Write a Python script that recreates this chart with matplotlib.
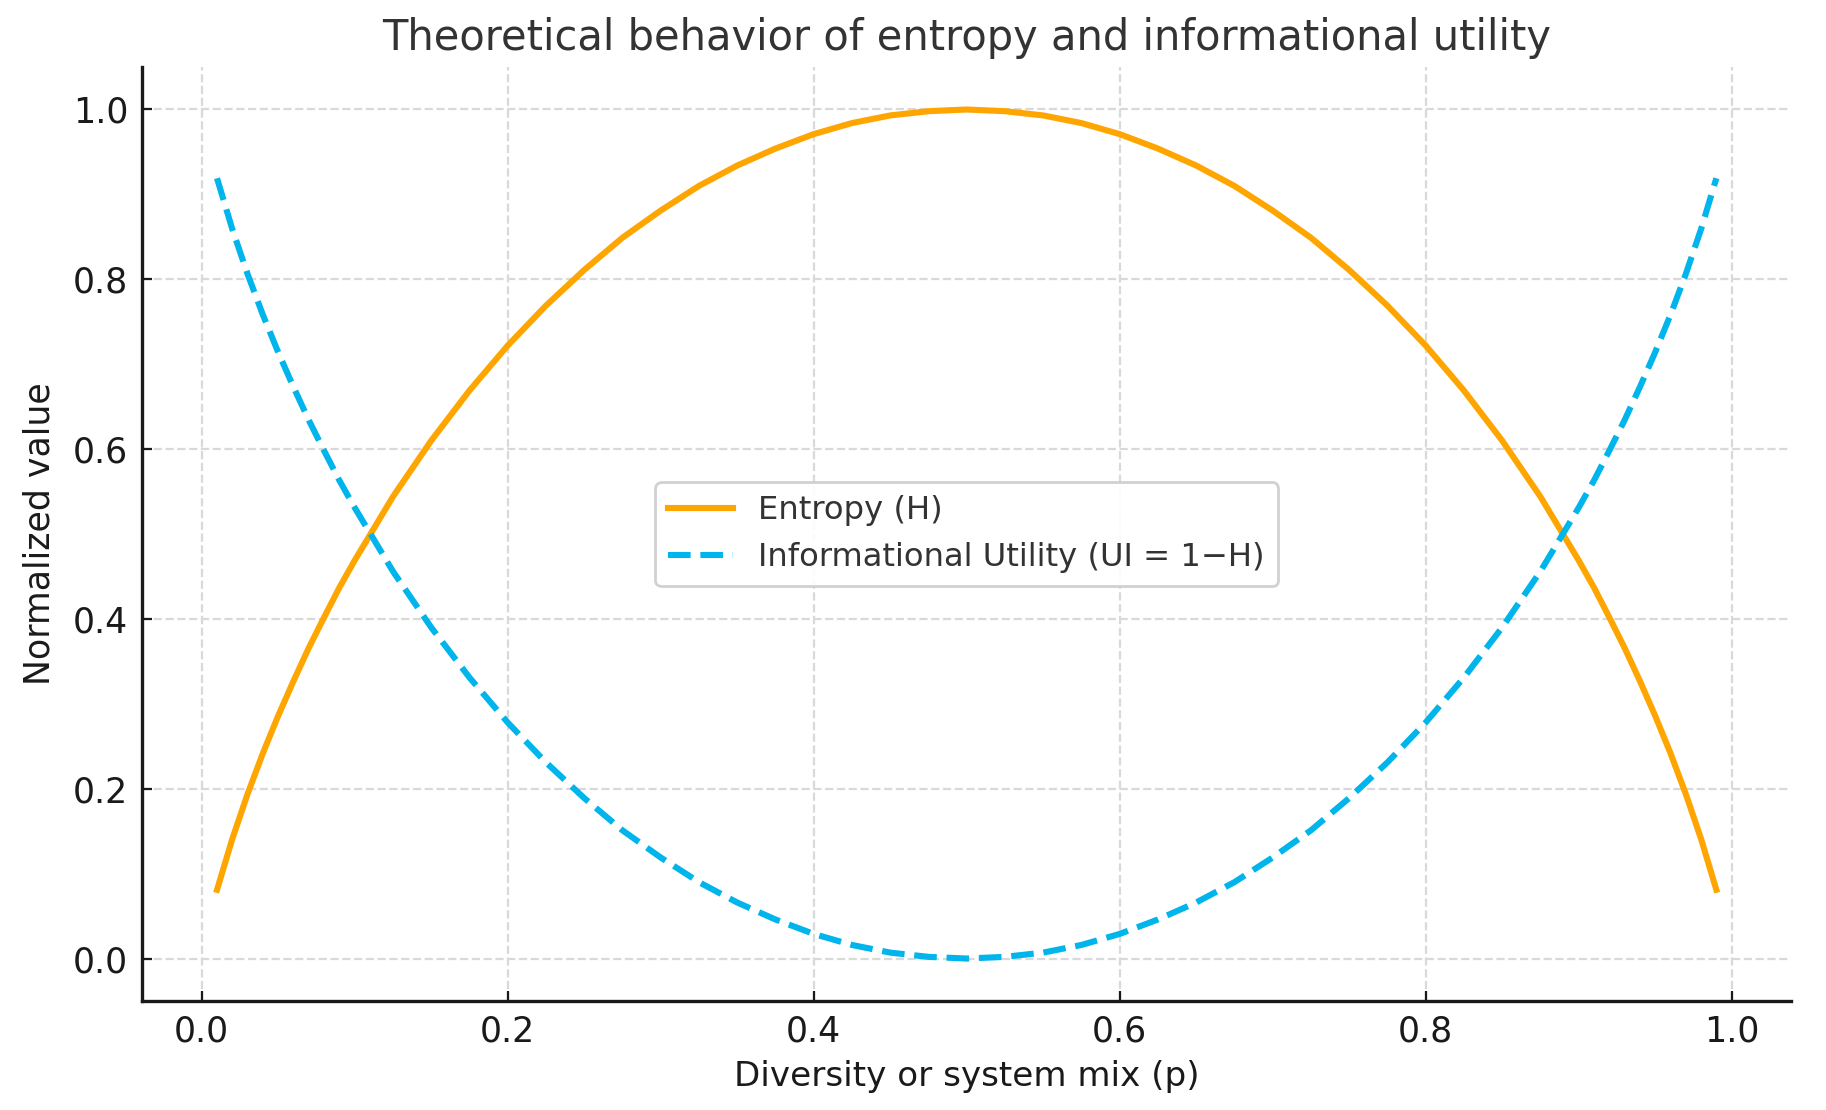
import matplotlib
matplotlib.use('Agg')
import matplotlib.pyplot as plt

# values
p_values = [0.01, 0.02, 0.03, 0.04, 0.05, 0.06, 0.07, 0.08, 0.09, 0.10,
            0.125, 0.15, 0.175, 0.20, 0.225, 0.25, 0.275, 0.30, 0.325, 0.35,
            0.375, 0.40, 0.425, 0.45, 0.475, 0.50,
            0.525, 0.55, 0.575, 0.60, 0.625, 0.65, 0.675, 0.70, 0.725, 0.75,
            0.775, 0.80, 0.825, 0.85, 0.875, 0.90,
            0.91, 0.92, 0.93, 0.94, 0.95, 0.96, 0.97, 0.98, 0.99]
entropy = [0.081, 0.141, 0.194, 0.242, 0.286, 0.327, 0.366, 0.402, 0.437, 0.469,
           0.544, 0.610, 0.669, 0.722, 0.769, 0.811, 0.849, 0.881, 0.910, 0.934,
           0.954, 0.971, 0.984, 0.993, 0.998, 1.000,
           0.998, 0.993, 0.984, 0.971, 0.954, 0.934, 0.910, 0.881, 0.849, 0.811,
           0.769, 0.722, 0.669, 0.610, 0.544, 0.469,
           0.437, 0.402, 0.366, 0.327, 0.286, 0.242, 0.194, 0.141, 0.081]
utility = [0.919, 0.859, 0.806, 0.758, 0.714, 0.673, 0.634, 0.598, 0.563, 0.531,
           0.456, 0.390, 0.331, 0.278, 0.231, 0.189, 0.151, 0.119, 0.090, 0.066,
           0.046, 0.029, 0.016, 0.007, 0.002, 0.000,
           0.002, 0.007, 0.016, 0.029, 0.046, 0.066, 0.090, 0.119, 0.151, 0.189,
           0.231, 0.278, 0.331, 0.390, 0.456, 0.531,
           0.563, 0.598, 0.634, 0.673, 0.714, 0.758, 0.806, 0.859, 0.919]

title = 'Theoretical behavior of entropy and informational utility'
xlabel = 'Diversity or system mix (p)'
ylabel = 'Normalized value'
labels = ['Entropy (H)', 'Informational Utility (UI = 1\u2212H)']

fig = plt.figure(figsize=(9.13, 5.55), dpi=200)
ax = fig.add_axes([0.0778, 0.0982, 0.9032, 0.8414])

ax.plot(p_values, entropy, color='#FFA500', linewidth=2.2, label=labels[0])
ax.plot(p_values, utility, color='#00B4EC', linewidth=2.2, linestyle='--', label=labels[1])

ax.set_xticks([0.0, 0.2, 0.4, 0.6, 0.8, 1.0])
ax.set_yticks([0.0, 0.2, 0.4, 0.6, 0.8, 1.0])

ax.grid(True, linestyle='--', color='#d9d9d9', linewidth=0.8)
ax.set_axisbelow(True)

ax.spines['top'].set_visible(False)
ax.spines['right'].set_visible(False)
ax.spines['left'].set_linewidth(1.2)
ax.spines['bottom'].set_linewidth(1.2)
ax.spines['left'].set_color('#1a1a1a')
ax.spines['bottom'].set_color('#1a1a1a')
ax.tick_params(direction='in', length=3.6, width=0.8, labelsize=12.5,
               colors='#1a1a1a', pad=5)

ax.set_title(title, fontsize=15, color='#333333', pad=6)
ax.set_xlabel(xlabel, fontsize=12.3, color='#1a1a1a', labelpad=4)
ax.set_ylabel(ylabel, fontsize=12.5, color='#1a1a1a', labelpad=6)

leg = ax.legend(loc='center', fontsize=11.6, handlelength=2.0, frameon=True,
                edgecolor='#cccccc', framealpha=0.9, fancybox=True)
for t in leg.get_texts():
    t.set_color('#333333')

fig.savefig('out.png', dpi=200)
